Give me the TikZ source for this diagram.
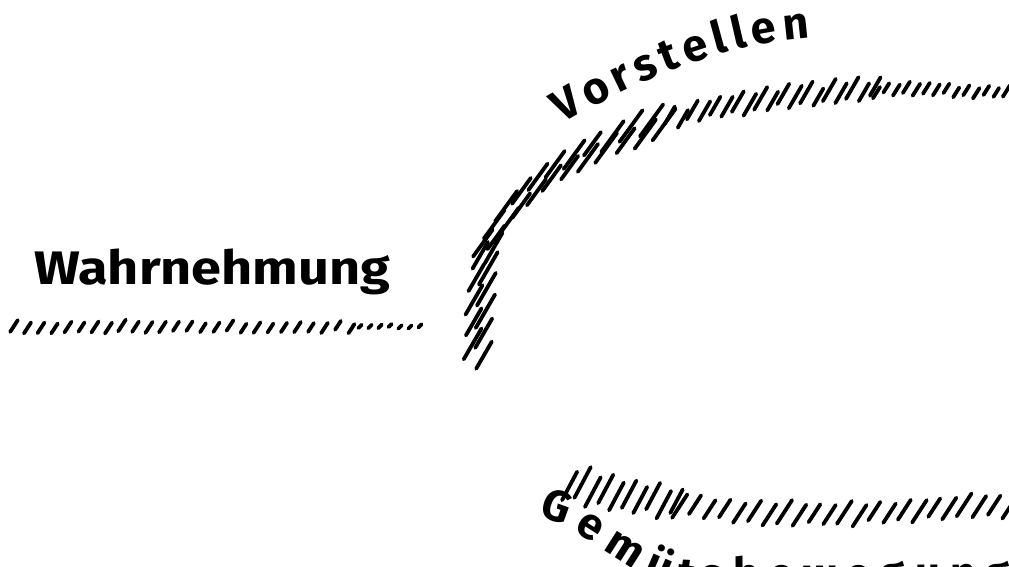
\documentclass[tikz,border=0pt]{standalone}
\usepackage{fontspec}
\setmainfont{Fira Sans}
\usetikzlibrary{decorations.markings,decorations.text}
\tikzset{
  hatchstroke/.style={line width=0.38pt, line cap=round},
  lbl/.style={font=\bfseries\fontsize{4.7}{5.2}\selectfont, inner sep=0pt},
}
\newcount\hcnt
% #1 angle, #2 length (px), #3 row separation (px); 1px = 0.1pt
\newcommand\hmark[3]{%
  \global\advance\hcnt by 1
  \ifodd\hcnt \def\hsgn{0.5}\else \def\hsgn{-0.5}\fi
  \pgfmathsetmacro\hoff{(\hsgn*(#3)+(rnd-0.5)*3)*0.1}%
  \pgftransformshift{\pgfpoint{0pt}{\hoff pt}}%
  \pgftransformresetnontranslations
  \pgfmathsetmacro\hl{(#2)*(0.8+0.3*rnd)/2}%
  \draw[hatchstroke] (#1+180:\hl) -- (#1:\hl);}
\begin{document}
\begin{tikzpicture}[x=0.1pt,y=-0.1pt]
\pgfmathsetseed{11}
\useasboundingbox (0,0) rectangle (1009,567);
\clip (0,0) rectangle (1009,567);

% Wahrnehmung
\node[lbl, anchor=base west] (wahr) at (32,285) {\scalebox{1.15}[1]{Wahrnehmung}};
\coordinate (w1) at (14,327);
\coordinate (w2) at (360,327);
\coordinate (w3) at (425,326);
\path[decoration={markings, mark=between positions 0 and 1 step 1.35pt with {\hmark{-57}{13}{1}}}, decorate] (w1) -- (w2);
\path[decoration={markings, mark=between positions 0 and 1 step 1pt with {\hmark{-45}{5}{0}}}, decorate] (w2) -- (w3);

% Vorstellen arc
\coordinate (a0) at (478,362);
\coordinate (a1) at (480,285);
\coordinate (a2) at (540,182);
\coordinate (a3) at (760,100);
\coordinate (a4) at (1015,94);
\path[decoration={markings,
  mark=between positions 0.01 and 0.17 step 1.1pt with {\hmark{-60}{36}{10}},
  mark=between positions 0.17 and 0.5 step 1.05pt with {\hmark{-54}{36}{10}},
  mark=between positions 0.5 and 0.8 step 1.15pt with {\hmark{-60}{25}{5}},
  mark=between positions 0.8 and 1 step 1pt with {\hmark{-58}{13}{3}}}, decorate]
  (a0) -- (a1) .. controls (482,245) and (500,212) .. (a2)
  .. controls (600,138) and (680,110) .. (a3)
  .. controls (840,88) and (930,86) .. (a4);
\path[decorate, decoration={text along path, text={|\bfseries\fontsize{4.5}{5}\selectfont|Vorstellen}, text align=fit to path}]
  (563,124) .. controls (640,78) and (720,45) .. (810,38);

% Gemuetsbewegung
\coordinate (g0) at (570,484);
\coordinate (g1) at (800,514);
\coordinate (g2) at (1015,505);
\path[decoration={markings,
  mark=between positions 0 and 0.25 step 1.2pt with {\hmark{-62}{32}{6}},
  mark=between positions 0.25 and 1 step 1.5pt with {\hmark{-57}{26}{3}}}, decorate]
  (g0) .. controls (620,494) and (700,514) .. (g1) .. controls (880,514) and (950,507) .. (g2);
\path[decorate, decoration={text along path, text={|\bfseries\fontsize{4.4}{5}\selectfont|Gemütsbewegung}, text align=fit to path}]
  (538,517) .. controls (585,524) and (635,590) .. (700,590) -- (1010,588);
\end{tikzpicture}
\end{document}
